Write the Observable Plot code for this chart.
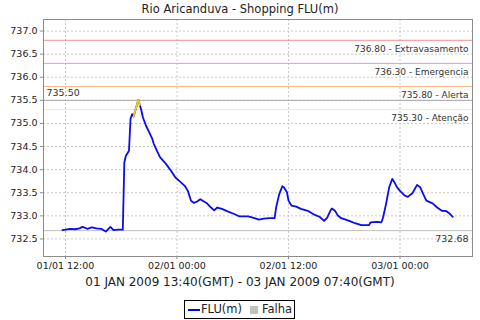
<!DOCTYPE html>
<html><head><meta charset="utf-8">
<script src="https://cdn.jsdelivr.net/npm/d3@7"></script>
<script src="https://cdn.jsdelivr.net/npm/@observablehq/plot@0.6"></script>
<style>
body{margin:0;background:#fff;font-family:"DejaVu Sans",sans-serif;}
#wrap{position:relative;width:480px;height:320px;overflow:hidden;background:#fff;}
#chart{position:absolute;left:0;top:0;}
#title{position:absolute;left:0;top:1px;width:480px;text-align:center;font-size:11.5px;line-height:16px;color:#222;}
#xlabel{position:absolute;left:0;top:274px;width:480px;text-align:center;font-size:12px;line-height:16px;color:#222;}
#legend{position:absolute;left:184px;top:300px;width:109px;height:17px;border:1px solid #000;font-size:11.5px;color:#222;}
#legend .ln{position:absolute;left:3px;top:8px;width:12px;height:2px;background:#0000ff;}
#legend .sq{position:absolute;left:65px;top:5px;width:8px;height:8px;background:#c0c0c0;}
#legend .t1{position:absolute;left:16px;top:0px;line-height:17px;}
#legend .t2{position:absolute;left:77px;top:0px;line-height:17px;}
</style>
</head><body>
<div id="wrap">
  <div id="chart"></div>
  <div id="title"></div>
  <div id="xlabel"></div>
  <div id="legend"><div class="ln"></div><div class="t1"></div><div class="sq"></div><div class="t2"></div></div>
</div>
<script>
const titleText = "Rio Aricanduva - Shopping FLU(m)";
const xLabelText = "01 JAN 2009 13:40(GMT) - 03 JAN 2009 07:40(GMT)";
const legendLabels = ["FLU(m)", "Falha"];

// local time (GMT-2) readings
const times = [
 "2009-01-01T11:40","2009-01-01T12:00","2009-01-01T12:30","2009-01-01T13:00","2009-01-01T13:30",
 "2009-01-01T13:50","2009-01-01T14:20","2009-01-01T14:50","2009-01-01T15:20","2009-01-01T15:50",
 "2009-01-01T16:20","2009-01-01T16:50","2009-01-01T17:10","2009-01-01T17:40","2009-01-01T18:10",
 "2009-01-01T18:20","2009-01-01T18:30","2009-01-01T18:50","2009-01-01T19:00","2009-01-01T19:10",
 "2009-01-01T19:20","2009-01-01T19:50","2009-01-01T20:00","2009-01-01T20:10","2009-01-01T20:20",
 "2009-01-01T20:40","2009-01-01T21:00","2009-01-01T21:20","2009-01-01T21:30","2009-01-01T21:50",
 "2009-01-01T22:10","2009-01-01T22:50","2009-01-01T23:20","2009-01-01T23:50","2009-01-02T00:20",
 "2009-01-02T00:50","2009-01-02T01:10","2009-01-02T01:30","2009-01-02T01:50","2009-01-02T02:10",
 "2009-01-02T02:30","2009-01-02T03:10","2009-01-02T03:40","2009-01-02T04:00","2009-01-02T04:20",
 "2009-01-02T04:50","2009-01-02T05:30","2009-01-02T06:10","2009-01-02T06:40","2009-01-02T07:40",
 "2009-01-02T08:20","2009-01-02T08:50","2009-01-02T09:20","2009-01-02T10:00","2009-01-02T10:30",
 "2009-01-02T10:40","2009-01-02T11:00","2009-01-02T11:20","2009-01-02T11:30","2009-01-02T11:50",
 "2009-01-02T12:00","2009-01-02T12:20","2009-01-02T12:50","2009-01-02T13:20","2009-01-02T14:10",
 "2009-01-02T14:50","2009-01-02T15:20","2009-01-02T15:50","2009-01-02T16:10","2009-01-02T16:30",
 "2009-01-02T16:40","2009-01-02T17:00","2009-01-02T17:20","2009-01-02T17:40","2009-01-02T18:00",
 "2009-01-02T18:40","2009-01-02T19:10","2009-01-02T19:50","2009-01-02T20:40","2009-01-02T20:50",
 "2009-01-02T21:30","2009-01-02T22:00","2009-01-02T22:10","2009-01-02T22:30","2009-01-02T22:50",
 "2009-01-02T23:10","2009-01-02T23:20","2009-01-02T23:40","2009-01-03T00:00","2009-01-03T00:30",
 "2009-01-03T00:50","2009-01-03T01:20","2009-01-03T01:50","2009-01-03T02:10","2009-01-03T02:30",
 "2009-01-03T02:50","2009-01-03T03:30","2009-01-03T04:00","2009-01-03T04:30","2009-01-03T05:00",
 "2009-01-03T05:20","2009-01-03T05:40"
];
const flu = [
 732.69,732.70,732.72,732.71,732.73,
 732.76,732.72,732.75,732.73,732.72,
 732.66,732.76,732.69,732.70,732.70,
 734.16,734.30,734.41,735.10,735.20,
 735.15,735.51,735.40,735.28,735.13,
 734.95,734.81,734.67,734.56,734.41,
 734.27,734.12,733.98,733.83,733.74,
 733.65,733.54,733.33,733.28,733.31,
 733.36,733.28,733.18,733.12,733.18,
 733.15,733.09,733.04,732.99,732.99,
 732.95,732.92,732.94,732.95,732.95,
 733.18,733.47,733.64,733.62,733.51,
 733.33,733.22,733.20,733.15,733.10,
 733.02,732.98,732.89,732.96,733.11,
 733.16,733.11,733.00,732.95,732.93,
 732.88,732.84,732.80,732.80,732.86,
 732.87,732.86,732.96,733.26,733.62,
 733.80,733.75,733.62,733.54,733.44,
 733.41,733.49,733.67,733.62,733.47,
 733.33,733.27,733.18,733.11,733.10,
 733.05,732.98
];

const levelValues = [736.80, 736.30, 735.80, 735.30];
const levelNames = ["Extravasamento", "Emergencia", "Alerta", "Atenção"];
const levelColors = ["#f09090", "#ff80ff", "#f8b888", "#f4f0a0"];
const refValues = [735.50, 732.68];
const attentionLevel = 735.30;

const yTicks = [732.5, 733.0, 733.5, 734.0, 734.5, 735.0, 735.5, 736.0, 736.5, 737.0];
const xTickStrings = ["2009-01-01T12:00", "2009-01-02T00:00", "2009-01-02T12:00", "2009-01-03T00:00"];
const xDomainStrings = ["2009-01-01T09:38", "2009-01-03T07:48"];
const yDomain = [732.12, 737.25];

const parse = d3.utcParse("%Y-%m-%dT%H:%M");
const data = times.map((t, i) => ({t: parse(t), v: flu[i]}));
const xTicks = xTickStrings.map(parse);
const xDomain = xDomainStrings.map(parse);

// segments colored by their end point: yellow when the end point reaches attention level
const yellowIdx = new Set();
data.forEach((d, i) => { if (i > 0 && d.v >= attentionLevel) { yellowIdx.add(i - 1); yellowIdx.add(i); } });
const yellowData = data.filter((d, i) => yellowIdx.has(i));

const fmt2 = d3.format(".2f");
const marks = [
  Plot.gridY(yTicks, {stroke: "#c8c8c8", strokeOpacity: 1, strokeDasharray: "2,2"}),
  Plot.gridX(xTicks, {stroke: "#c8c8c8", strokeOpacity: 1, strokeDasharray: "2,2"}),
  Plot.ruleY([refValues[0]], {stroke: "#a8a8a8", strokeWidth: 1}),
  Plot.ruleY([refValues[1]], {stroke: "#c0c0c0", strokeWidth: 1}),
  ...levelValues.map((v, i) => Plot.ruleY([v], {stroke: levelColors[i], strokeWidth: 1})),
  ...levelValues.map((v, i) => Plot.text([fmt2(v) + " - " + levelNames[i]], {
    x: xDomain[1], y: v, text: d => d, textAnchor: "end", dx: -4, dy: 9, fill: "#333", fontSize: 9})),
  Plot.text([fmt2(refValues[0])], {x: xDomain[0], y: refValues[0], text: d => d, textAnchor: "start", dx: 3, dy: -7, fill: "#333", fontSize: 9.5}),
  Plot.text([fmt2(refValues[1])], {x: xDomain[1], y: refValues[1], text: d => d, textAnchor: "end", dx: -4, dy: 8.5, fill: "#333", fontSize: 9.5}),
  Plot.line(data, {x: "t", y: "v", stroke: "#0a0af5", strokeWidth: 1.8}),
  Plot.line(yellowData, {x: "t", y: "v", stroke: "#f5cc00", strokeWidth: 1.8}),
  Plot.frame({stroke: "#8c8c8c"}),
  Plot.axisY(yTicks, {tickSize: 3, tickPadding: 3, tickFormat: d3.format(".1f"), label: null, stroke: "#8c8c8c"}),
  Plot.axisX(xTicks, {tickSize: 3, tickPadding: 3, tickFormat: d3.utcFormat("%d/%m %H:%M"), label: null, stroke: "#8c8c8c"})
];

const chart = Plot.plot({
  width: 480,
  height: 290,
  marginTop: 19,
  marginBottom: 34,
  marginLeft: 43,
  marginRight: 8,
  style: {fontFamily: "DejaVu Sans", fontSize: "9.5px", color: "#222", background: "transparent"},
  x: {type: "utc", domain: xDomain},
  y: {domain: yDomain},
  marks
});
document.getElementById("chart").appendChild(chart);
document.getElementById("title").textContent = titleText;
document.getElementById("xlabel").textContent = xLabelText;
document.querySelector("#legend .t1").textContent = legendLabels[0];
document.querySelector("#legend .t2").textContent = legendLabels[1];
</script>
</body></html>
